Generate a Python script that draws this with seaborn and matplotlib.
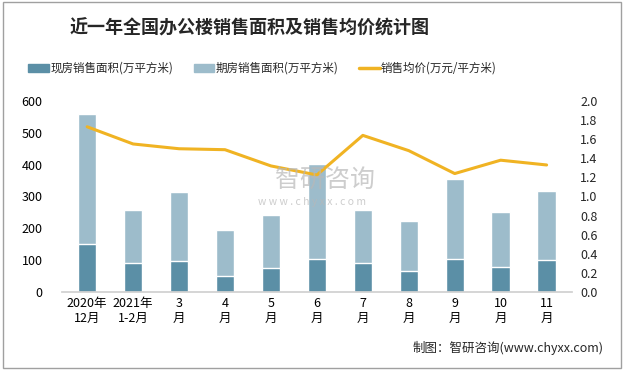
import numpy as np
import pandas as pd
import seaborn as sns
import matplotlib.pyplot as plt
from matplotlib.patches import Patch, Rectangle
from matplotlib.lines import Line2D

# data
months = ['2020年\n12月', '2021年\n1-2月', '3\n月', '4\n月', '5\n月', '6\n月',
          '7\n月', '8\n月', '9\n月', '10\n月', '11\n月']
xianfang = [151, 91, 97, 50, 75, 104, 91, 66, 104, 79, 100]      # 现房销售面积
total_area = [559, 258, 314, 195, 242, 402, 258, 223, 355, 251, 317]
qifang = [t - x for t, x in zip(total_area, xianfang)]           # 期房销售面积
price = [1.73, 1.55, 1.50, 1.49, 1.32, 1.225, 1.64, 1.48, 1.24, 1.38, 1.33]

df = pd.DataFrame({'month': months, 'xianfang': xianfang, 'total': total_area, 'price': price})

sns.set_theme(style='white')
plt.rcParams['font.family'] = ['Noto Sans CJK SC', 'DejaVu Sans']

dark = '#5b8fa6'
light = '#9dbccb'
gold = '#f0b323'

fig = plt.figure(figsize=(6.25, 3.7), dpi=100)
ax = fig.add_axes([0.099, 0.211, 0.816, 0.516])

sns.barplot(data=df, x='month', y='total', color=light, width=0.4, saturation=1, ax=ax)
sns.barplot(data=df, x='month', y='xianfang', color=dark, width=0.4, saturation=1, ax=ax)
ax.set_ylim(0, 600)
ax.set_yticks(range(0, 601, 100))
ax.set_xlim(-0.55, 10.55)
ax.set_xlabel('')
ax.set_ylabel('')
ax.tick_params(axis='both', labelsize=9, length=0, colors='black')
ax.tick_params(axis='y', pad=14)
for s in ['top', 'right', 'left']:
    ax.spines[s].set_visible(False)
ax.spines['bottom'].set_color('#d0d0d0')

ax2 = ax.twinx()
sns.lineplot(x=np.arange(len(months)), y=df['price'], color=gold, linewidth=2.2, ax=ax2)
ax2.set_ylim(0, 2.0)
ax2.set_yticks(np.arange(0, 2.01, 0.2))
ax2.set_yticklabels([f'{v:.1f}' for v in np.arange(0, 2.01, 0.2)])
ax2.set_ylabel('')
ax2.tick_params(axis='y', labelsize=9, length=0, pad=6)
for s in ax2.spines.values():
    s.set_visible(False)

fig.text(0.40, 0.925, '近一年全国办公楼销售面积及销售均价统计图', ha='center', va='center',
         fontsize=13, fontweight='bold')

handles = [Patch(color=dark), Patch(color=light), Line2D([0], [0], color=gold, lw=2.5)]
labels = ['现房销售面积(万平方米)', '期房销售面积(万平方米)', '销售均价(万元/平方米)']
fig.legend(handles, labels, loc='center', bbox_to_anchor=(0.42, 0.815), ncol=3, frameon=False,
           fontsize=8.3, handlelength=1.8, handleheight=0.6, handletextpad=0.1, columnspacing=1.8)

# watermark
fig.text(0.52, 0.515, '智研咨询', ha='center', va='center', fontsize=18, color='#b8b8b8', alpha=0.7)
fig.text(0.50, 0.455, 'w w w . c h y x x . c o m', ha='center', va='center', fontsize=7.5,
         color='#b8b8b8', alpha=0.7)

fig.text(0.965, 0.06, '制图：智研咨询(www.chyxx.com)', ha='right', va='center', fontsize=9)

fig.patches.append(Rectangle((0.004, 0.005), 0.99, 0.99, transform=fig.transFigure,
                             fill=False, edgecolor='#a0a0a0', linewidth=1))

fig.savefig('out.png', dpi=100)
